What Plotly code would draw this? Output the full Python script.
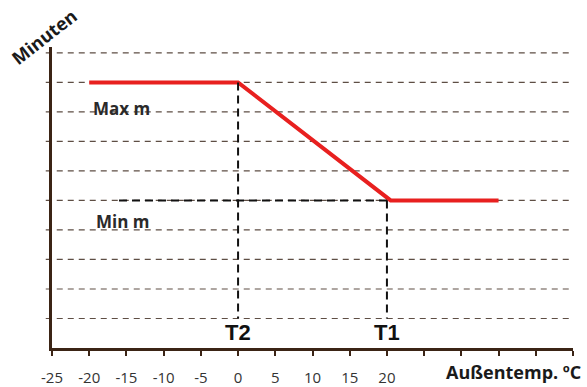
import plotly.graph_objs as go

# heating curve: minutes vs outside temperature
curve_x = [-20, 0, 20.5, 35]
curve_y = [9, 9, 5, 5]

# dashed guide levels (horizontal grid)
grid_levels = [1, 2, 3, 4, 5, 6, 7, 8, 9, 10]

# x axis ticks, labels only up to 20
tick_vals = [-25, -20, -15, -10, -5, 0, 5, 10, 15, 20, 25, 30, 35, 40, 45]
tick_text = ['-25', '-20', '-15', '-10', '-5', '0', '5', '10', '15', '20', '', '', '', '', '']

# marker temperatures and levels
t2_x, t1_x = 0, 20
max_level, min_level = 9, 5
min_line_start = -16
marker_bottom = 1

axis_col = '#3b2415'
grid_col = '#5e4e44'

fig = go.Figure()

# dashed grid lines drawn as shapes so they overhang the axis a bit
shapes = []
for lv in grid_levels:
    shapes.append(dict(type='line', xref='paper', yref='y', x0=-0.012, x1=1.0, y0=lv, y1=lv,
                       line=dict(color=grid_col, width=1.2, dash='6px,5px'), layer='below'))

# black guide lines for T2, T1 and Min m
shapes.append(dict(type='line', xref='x', yref='y', x0=t2_x, x1=t2_x, y0=max_level, y1=marker_bottom,
                   line=dict(color='#111111', width=2, dash='8px,5px')))
shapes.append(dict(type='line', xref='x', yref='y', x0=t1_x, x1=t1_x, y0=min_level, y1=marker_bottom,
                   line=dict(color='#111111', width=2, dash='8px,5px')))
shapes.append(dict(type='line', xref='x', yref='y', x0=min_line_start, x1=t1_x, y0=min_level, y1=min_level,
                   line=dict(color='#111111', width=2, dash='8px,5px')))

fig.add_trace(go.Scatter(x=curve_x, y=curve_y, mode='lines',
                         line=dict(color='#e8201f', width=4), showlegend=False, hoverinfo='skip'))

annotations = [
    dict(text='<b>Max m</b>', x=-15.6, y=8.12, xref='x', yref='y', showarrow=False,
         xanchor='center', yanchor='middle',
         font=dict(family='Open Sans', size=17, color='#2a2a2a')),
    dict(text='<b>Min m</b>', x=-15.4, y=4.28, xref='x', yref='y', showarrow=False,
         xanchor='center', yanchor='middle',
         font=dict(family='Open Sans', size=17, color='#2a2a2a')),
    dict(text='<b>T2</b>', x=t2_x, y=0.51, xref='x', yref='y', showarrow=False,
         xanchor='center', yanchor='middle',
         font=dict(family='Liberation Sans', size=22, color='#111111')),
    dict(text='<b>T1</b>', x=t1_x, y=0.51, xref='x', yref='y', showarrow=False,
         xanchor='center', yanchor='middle',
         font=dict(family='Liberation Sans', size=22, color='#111111')),
    dict(text='<b>Minuten</b>', x=-0.016, y=1.033, xref='paper', yref='paper', showarrow=False,
         xanchor='center', yanchor='middle', textangle=-38,
         font=dict(family='Open Sans', size=18, color='#1a1a1a')),
    dict(text='<b>Außentemp. ºC</b>', x=0.885, y=-0.08, xref='paper', yref='paper', showarrow=False,
         xanchor='center', yanchor='middle',
         font=dict(family='Open Sans', size=18, color='#1a1a1a')),
]

fig.update_layout(
    width=587, height=387,
    margin=dict(l=52, r=14, t=47, b=39),
    paper_bgcolor='white', plot_bgcolor='white',
    shapes=shapes, annotations=annotations,
    xaxis=dict(range=[-25, 45], tickvals=tick_vals, ticktext=tick_text, automargin=False,
               showgrid=False, zeroline=False, showline=True, linecolor=axis_col, linewidth=3,
               ticks='outside', ticklen=5, tickcolor=axis_col, tickwidth=1.5, ticklabelstandoff=9,
               tickfont=dict(family='Open Sans', size=15, color='#333333')),
    yaxis=dict(range=[0, 10.2], showgrid=False, zeroline=False, showticklabels=False, automargin=False,
               showline=True, linecolor=axis_col, linewidth=3),
)

# drop the default page margin so the figure sits at the window corner
fig.write_html("out.html", config={'displayModeBar': False},
               post_script="document.body.style.margin='0';")
